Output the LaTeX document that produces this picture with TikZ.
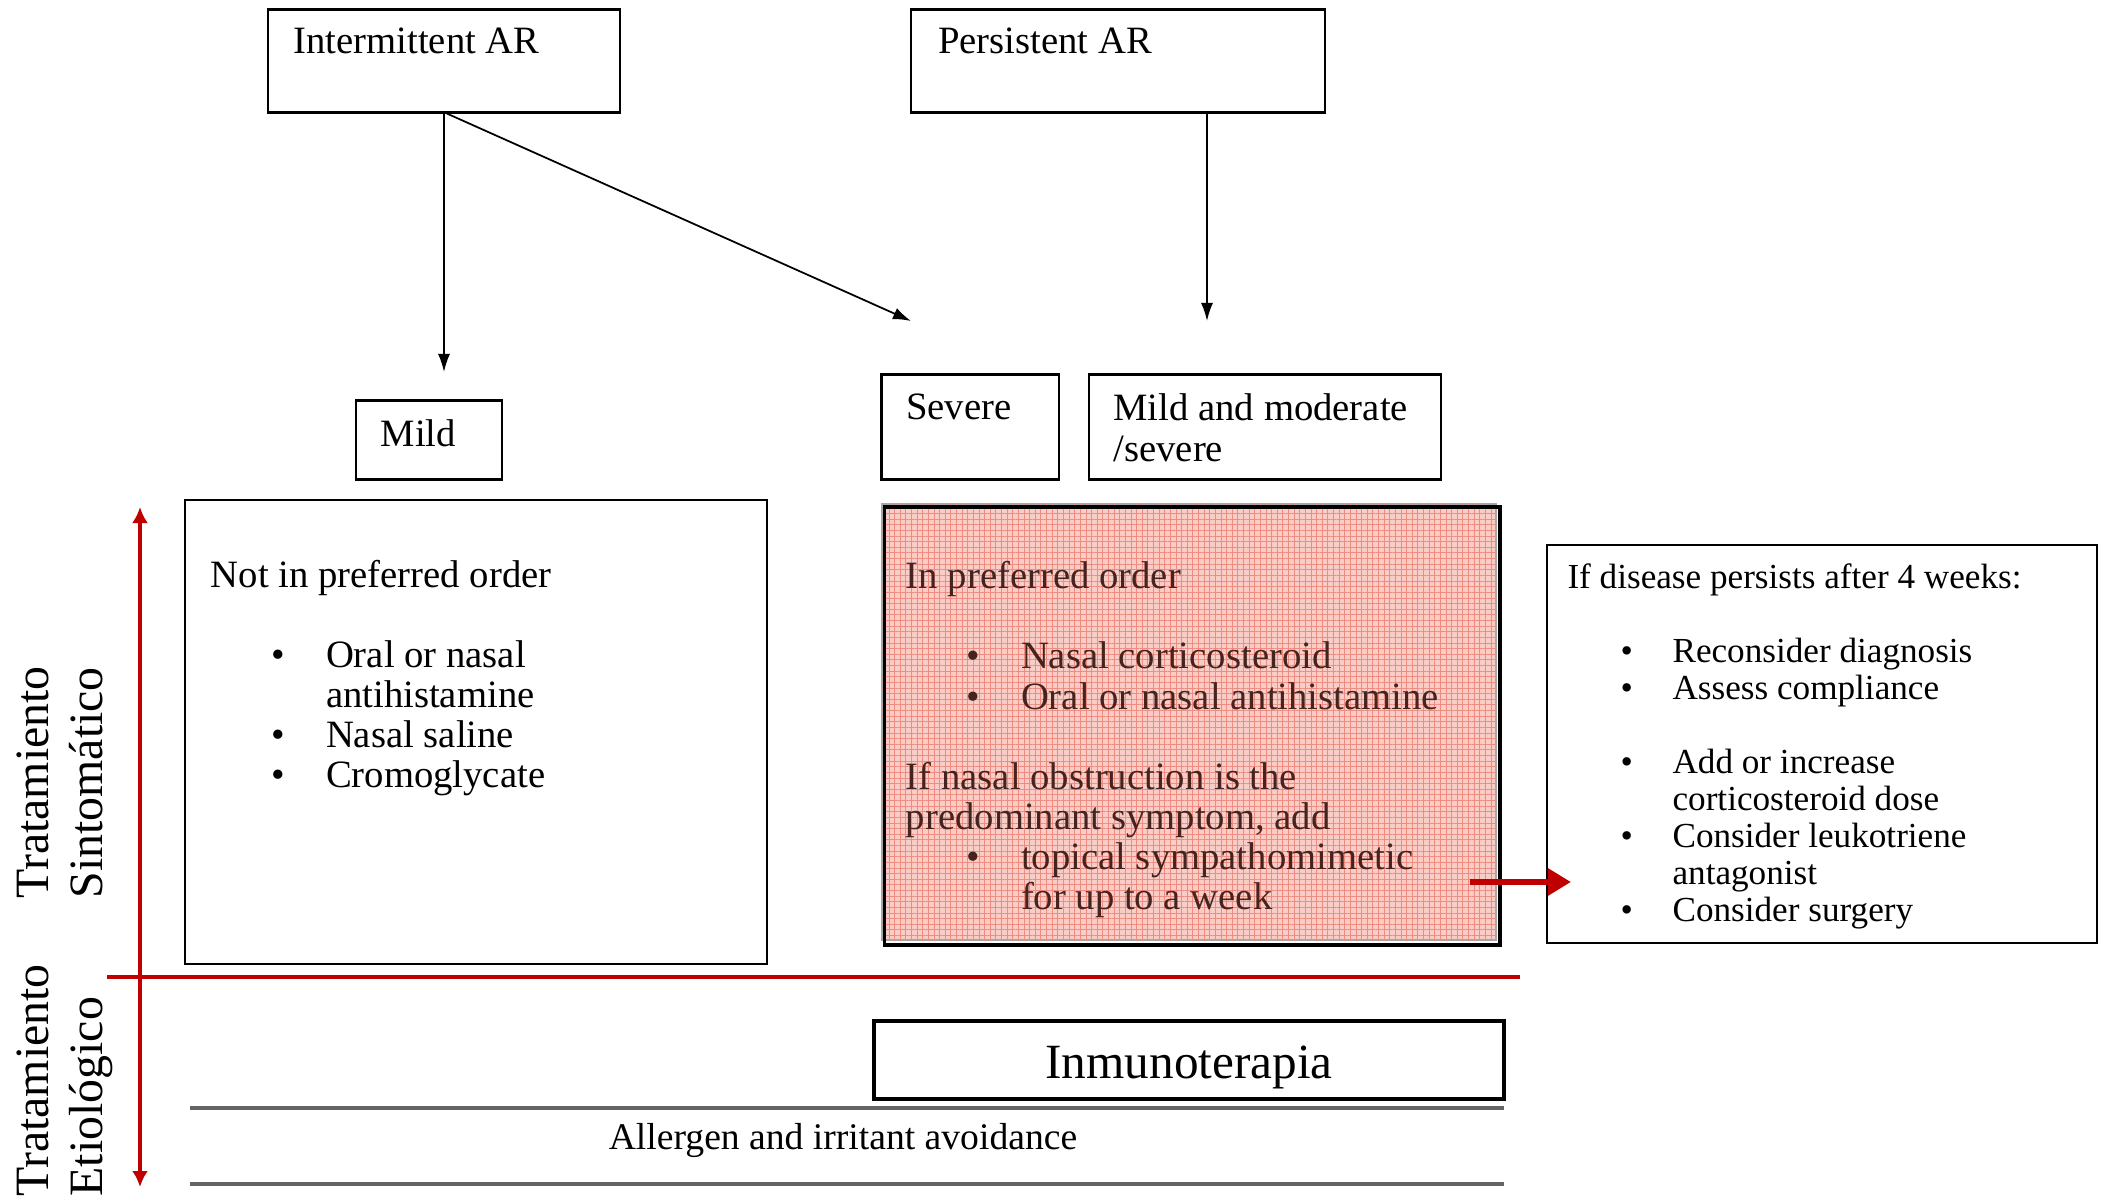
\documentclass[tikz,border=0pt]{standalone}
\usepackage{fontspec}
\setmainfont{Liberation Serif}
\usetikzlibrary{arrows.meta,patterns.meta,positioning}

\definecolor{arred}{RGB}{192,0,0}
\definecolor{prefpink}{RGB}{249,204,198}
\definecolor{prefgrid}{RGB}{238,140,130}
\definecolor{preftext}{RGB}{70,35,30}
\definecolor{rulegray}{RGB}{100,100,100}

\newcommand{\lbul}{\makebox[1.15cm][l]{\hspace{0.6cm}\textbullet}}
\newcommand{\rbul}{\makebox[1.05cm][l]{\hspace{0.53cm}\textbullet}}

\tikzset{
  box/.style={rectangle,draw,line width=0.6pt,inner sep=0pt},
  boxtext/.style={anchor=north west,inner sep=0pt,align=left,font=\fontsize{11}{11.4}\selectfont},
  flow/.style={-{Latex[length=1.8mm,width=1.2mm]},line width=0.5pt},
  sidelabel/.style={rotate=90,anchor=north west,align=left,inner sep=0pt,font=\fontsize{13.6}{15.5}\selectfont},
}

\begin{document}
\begin{tikzpicture}[x=0.01cm,y=-0.01cm]
\useasboundingbox (0,0) rectangle (2105,1200);

% Type of rhinitis
\node[box,minimum width=3.52cm,minimum height=1.03cm,
  label={[boxtext,xshift=0.26cm,yshift=-0.19cm]north west:Intermittent AR}] (intAR) at (444,61) {};
\node[box,minimum width=4.13cm,minimum height=1.03cm,
  label={[boxtext,xshift=0.27cm,yshift=-0.19cm]north west:Persistent AR}] (perAR) at (1118,61) {};

% Severity
\node[box,minimum width=1.46cm,minimum height=0.79cm,
  label={[boxtext,xshift=0.25cm,yshift=-0.20cm]north west:Mild}] (mild) at (429,440) {};
\node[box,minimum width=1.77cm,minimum height=1.05cm,
  label={[boxtext,xshift=0.25cm,yshift=-0.20cm]north west:Severe}] (severe) at (970,427) {};
\node[box,minimum width=3.52cm,minimum height=1.05cm,
  label={[boxtext,xshift=0.25cm,yshift=-0.20cm]north west:{Mild and moderate\\/severe}}] (mildmod) at (1265,427) {};

\coordinate (mildin) at (444,372);
\coordinate (sevin) at (911,321);
\coordinate (modin) at (1207,321);
\draw[flow] (intAR.south) -- (mildin);
\draw[flow] ([xshift=0.03cm]intAR.south) -- (sevin);
\draw[flow] (perAR.south -| modin) -- (modin);

% Symptomatic treatment
\node[box,minimum width=5.81cm,minimum height=4.63cm,
  label={[boxtext,xshift=0.26cm,yshift=-0.60cm]north west:{Not in preferred order\\[11.4pt]
    \lbul Oral or nasal\\
    \hspace*{1.15cm}antihistamine\\
    \lbul Nasal saline\\
    \lbul Cromoglycate}}] (nopref) at (476,732) {};

\node[box,draw=gray!70,fill=prefpink,minimum width=6.13cm,minimum height=4.36cm,
  postaction={pattern={Hatch[distance=1.6pt,line width=0.25pt]},pattern color=prefgrid},
  label={[boxtext,text=preftext,xshift=0.24cm,yshift=-0.58cm]north west:{In preferred order\\[11.4pt]
    \lbul Nasal corticosteroid\\
    \lbul Oral or nasal antihistamine\\[11.4pt]
    If nasal obstruction is the\\
    predominant symptom, add\\
    \lbul topical sympathomimetic\\
    \hspace*{1.15cm}for up to a week}}] (pref) at (1189,722) {};
\draw[line width=1pt] ([shift={(3,4)}]pref.north west) rectangle ([shift={(3,4)}]pref.south east);

\node[box,minimum width=5.50cm,minimum height=3.97cm,
  label={[boxtext,font=\fontsize{10}{10.5}\selectfont,xshift=0.21cm,yshift=-0.19cm]north west:{If disease persists after 4 weeks:\\[10.5pt]
    \rbul Reconsider diagnosis\\
    \rbul Assess compliance\\[10.5pt]
    \rbul Add or increase\\
    \hspace*{1.05cm}corticosteroid dose\\
    \rbul Consider leukotriene\\
    \hspace*{1.05cm}antagonist\\
    \rbul Consider surgery}}] (persist) at (1822,744) {};

\coordinate (pushout) at (1470,882);
\coordinate (pushin) at (1571,882);
\draw[-{Triangle[length=2.3mm,width=2.6mm]},arred,line width=1.7pt] (pushout) -- (pushin);

% Etiological treatment
\draw[arred,line width=1pt] (107,977) -- (1520,977);
\node[box,line width=1.1pt,minimum width=6.30cm,minimum height=0.78cm,
  text height=10.6pt,text depth=0pt,
  font=\fontsize{14}{16}\selectfont] (inmuno) at (1189,1060) {Inmunoterapia};
\draw[rulegray,line width=1.2pt] (190,1108) -- (1504,1108);
\draw[rulegray,line width=1.2pt] (190,1184) -- (1504,1184);
\node[font=\fontsize{10.7}{12}\selectfont] (avoid) at (843,1140) {Allergen and irritant avoidance};

% Side labels
\coordinate (symtop) at (140,507);
\coordinate (etibot) at (140,1187);
\draw[{Latex[length=1.6mm,width=1.6mm]}-{Latex[length=1.6mm,width=1.6mm]},arred,line width=0.9pt] (symtop) -- (etibot);
\node[sidelabel] (sinto) at (16,899) {Tratamiento\\Sintomático};
\node[sidelabel] (etio) at (16,1197) {Tratamiento\\Etiológico};

\end{tikzpicture}
\end{document}
